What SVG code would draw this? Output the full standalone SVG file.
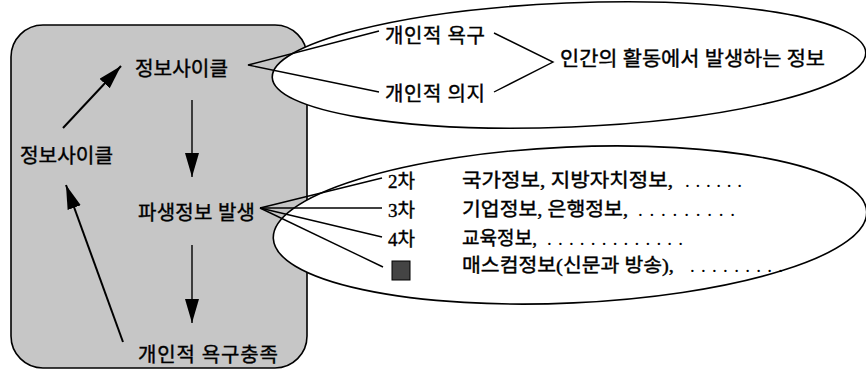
<svg xmlns="http://www.w3.org/2000/svg" width="866" height="376" viewBox="0 0 866 376">
<defs>
<style>
.t{font-family:"Liberation Serif","Noto Sans CJK KR",serif;font-size:20px;fill:#000;stroke:#000;stroke-width:0.4}
.s{font-size:19px}
.d{stroke:none}
.ln{stroke:#000;stroke-width:1.4;fill:none}
.ar{stroke:#000;stroke-width:2;fill:none}
.bub{fill:#fff;stroke:#000;stroke-width:1.6}
</style>
<marker id="ah" markerUnits="userSpaceOnUse" markerWidth="26" markerHeight="16" refX="24" refY="7" orient="auto">
<path d="M0,0 L24,7 L0,14 Z" fill="#000"/>
</marker>
</defs>
<rect width="866" height="376" fill="#fff"/>
<g id="box">
<rect x="11" y="25" width="296" height="343" rx="32" ry="32" fill="#c6c6c6" stroke="#000" stroke-width="1.6"/>
</g>
<g id="bubble-top">
<ellipse class="bub" cx="569" cy="65" rx="297" ry="62" transform="rotate(-2.4 569 65)"/>
</g>
<g id="bubble-bottom">
<ellipse class="bub" cx="570" cy="225" rx="297" ry="78" transform="rotate(-2.6 570 225)"/>
</g>
<g id="connectors">
<line class="ar" x1="63" y1="128" x2="121" y2="66" marker-end="url(#ah)"/>
<line class="ln" x1="192" y1="100" x2="192" y2="177" marker-end="url(#ah)"/>
<line class="ln" x1="192" y1="245" x2="192" y2="323" marker-end="url(#ah)"/>
<line class="ar" x1="123" y1="342" x2="66" y2="185" marker-end="url(#ah)"/>
<polyline class="ln" points="379,31 248,65 379,92"/>
<polyline class="ln" points="494,33 553,62 494,92"/>
<line class="ln" x1="260" y1="208" x2="382" y2="178"/>
<line class="ln" x1="260" y1="208" x2="382" y2="208"/>
<line class="ln" x1="260" y1="208" x2="382" y2="237"/>
<line class="ln" x1="260" y1="208" x2="383" y2="267"/>
</g>
<g id="node-cycle-top"><text class="t" x="135" y="76" textLength="93" lengthAdjust="spacingAndGlyphs">정보사이클</text></g>
<g id="node-cycle-left"><text class="t" x="20" y="163" textLength="93" lengthAdjust="spacingAndGlyphs">정보사이클</text></g>
<g id="node-derived"><text class="t" x="138" y="220" textLength="117" lengthAdjust="spacing">파생정보 발생</text></g>
<g id="node-satisfy"><text class="t" x="138" y="362" textLength="140" lengthAdjust="spacing">개인적 욕구충족</text></g>
<g id="node-need"><text class="t" x="385" y="43" textLength="100" lengthAdjust="spacing">개인적 욕구</text></g>
<g id="node-will"><text class="t" x="385" y="101" textLength="100" lengthAdjust="spacing">개인적 의지</text></g>
<g id="node-human"><text class="t" x="560" y="66" textLength="265" lengthAdjust="spacingAndGlyphs">인간의 활동에서 발생하는 정보</text></g>
<g id="node-2"><text class="t s" x="388" y="188">2차</text>
<text class="t s" x="462" y="187" textLength="211" lengthAdjust="spacingAndGlyphs">국가정보, 지방자치정보,</text>
<text class="t s d" x="685" y="187" textLength="57" lengthAdjust="spacing">......</text></g>
<g id="node-3"><text class="t s" x="388" y="217">3차</text>
<text class="t s" x="462" y="216" textLength="166" lengthAdjust="spacingAndGlyphs">기업정보, 은행정보,</text>
<text class="t s d" x="638" y="216" textLength="97" lengthAdjust="spacing">.........</text></g>
<g id="node-4"><text class="t s" x="388" y="246">4차</text>
<text class="t s" x="462" y="245" textLength="75" lengthAdjust="spacingAndGlyphs">교육정보,</text>
<text class="t s d" x="547" y="245" textLength="136" lengthAdjust="spacing">.............</text></g>
<g id="node-mass"><rect x="392" y="261" width="18" height="19" fill="#444" stroke="#000" stroke-width="1"/>
<text class="t s" x="462" y="272" textLength="212" lengthAdjust="spacingAndGlyphs">매스컴정보(신문과 방송),</text>
<text class="t s d" x="690" y="272" textLength="93" lengthAdjust="spacing">.........</text></g>
</svg>
